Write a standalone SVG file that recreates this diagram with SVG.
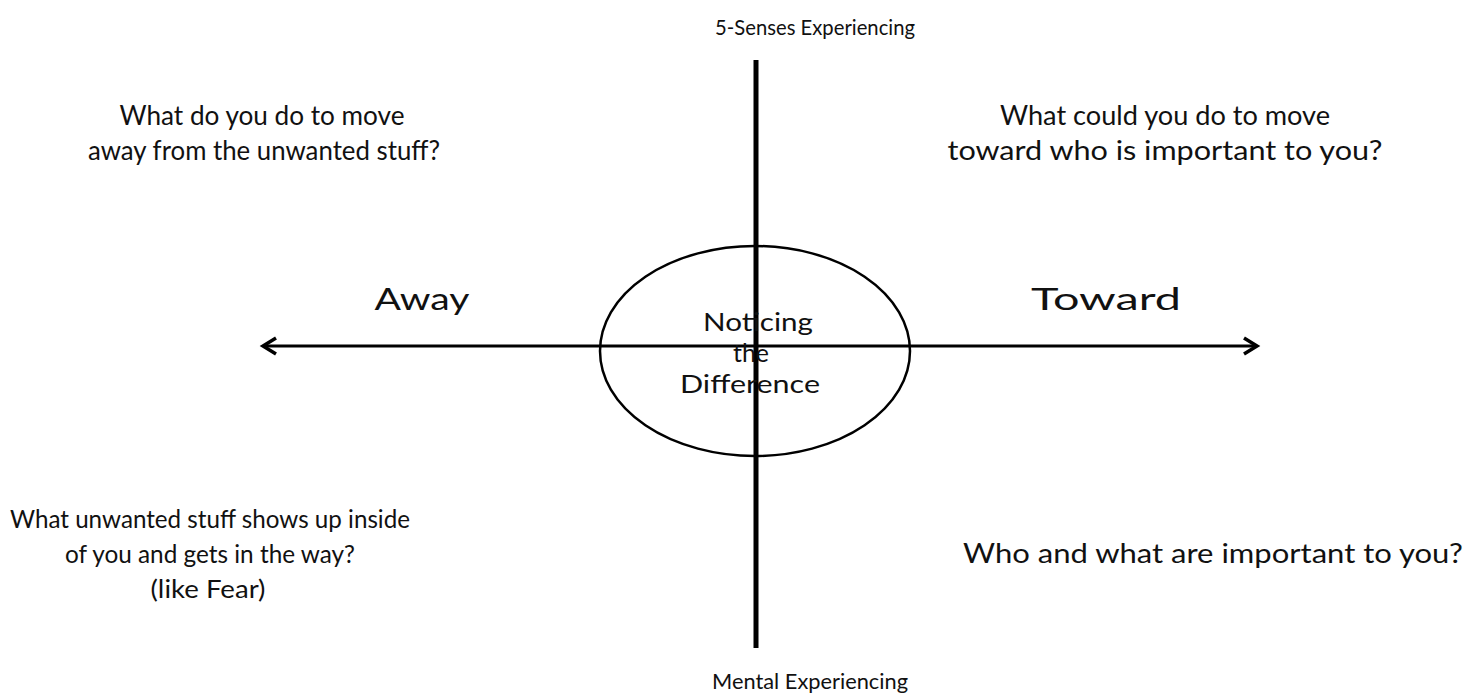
<svg xmlns="http://www.w3.org/2000/svg" width="1474" height="696" viewBox="0 0 1474 696">
<style>
  text { font-family: "Lato", "Open Sans", sans-serif; fill: #111; }
  .q { font-size: 26px; text-anchor: middle; }
  .qs { font-size: 25px; text-anchor: middle; }
  .ax { font-size: 22px; text-anchor: middle; }
  .dir { font-size: 31px; text-anchor: middle; }
  .ctr { font-size: 25px; text-anchor: middle; }
  .ln { stroke: #000; fill: none; }
</style>
<rect width="1474" height="696" fill="#fff"/>
<g id="connectors">
  <line class="ln" x1="756" y1="60" x2="756" y2="648" stroke-width="5"/>
  <line class="ln" x1="263" y1="346" x2="1257" y2="346" stroke-width="3"/>
  <polyline class="ln" points="276,338 263,346 276,354" stroke-width="3.5" stroke-linejoin="miter"/>
  <polyline class="ln" points="1244,338 1257,346 1244,354" stroke-width="3.5" stroke-linejoin="miter"/>
</g>
<g id="center">
  <ellipse class="ln" cx="755" cy="351" rx="155" ry="105" stroke-width="2.5"/>
  <text class="ctr" x="758" y="331" textLength="110" lengthAdjust="spacingAndGlyphs">Noticing</text>
  <text class="ctr" x="751" y="362" textLength="36" lengthAdjust="spacingAndGlyphs">the</text>
  <text class="ctr" x="750" y="393" textLength="140" lengthAdjust="spacingAndGlyphs">Difference</text>
</g>
<g id="top-label"><text class="ax" x="815" y="35" textLength="200" lengthAdjust="spacingAndGlyphs">5-Senses Experiencing</text></g>
<g id="bottom-label"><text class="ax" x="810" y="689" textLength="196" lengthAdjust="spacingAndGlyphs">Mental Experiencing</text></g>
<g id="away"><text class="dir" x="422" y="310" textLength="95" lengthAdjust="spacingAndGlyphs">Away</text></g>
<g id="toward"><text class="dir" x="1106" y="310" textLength="150" lengthAdjust="spacingAndGlyphs">Toward</text></g>
<g id="top-left">
  <text class="q" x="262" y="125" textLength="285" lengthAdjust="spacingAndGlyphs">What do you do to move</text>
  <text class="q" x="264" y="160" textLength="352" lengthAdjust="spacingAndGlyphs">away from the unwanted stuff?</text>
</g>
<g id="top-right">
  <text class="q" x="1165" y="125" textLength="330" lengthAdjust="spacingAndGlyphs">What could you do to move</text>
  <text class="q" x="1165" y="160" textLength="435" lengthAdjust="spacingAndGlyphs">toward who is important to you?</text>
</g>
<g id="bottom-left">
  <text class="qs" x="210" y="528" textLength="400" lengthAdjust="spacingAndGlyphs">What unwanted stuff shows up inside</text>
  <text class="qs" x="210" y="563" textLength="290" lengthAdjust="spacingAndGlyphs">of you and gets in the way?</text>
  <text class="qs" x="208" y="598" textLength="115" lengthAdjust="spacingAndGlyphs">(like Fear)</text>
</g>
<g id="bottom-right">
  <text class="q" x="1213" y="563" textLength="500" lengthAdjust="spacingAndGlyphs">Who and what are important to you?</text>
</g>
</svg>
